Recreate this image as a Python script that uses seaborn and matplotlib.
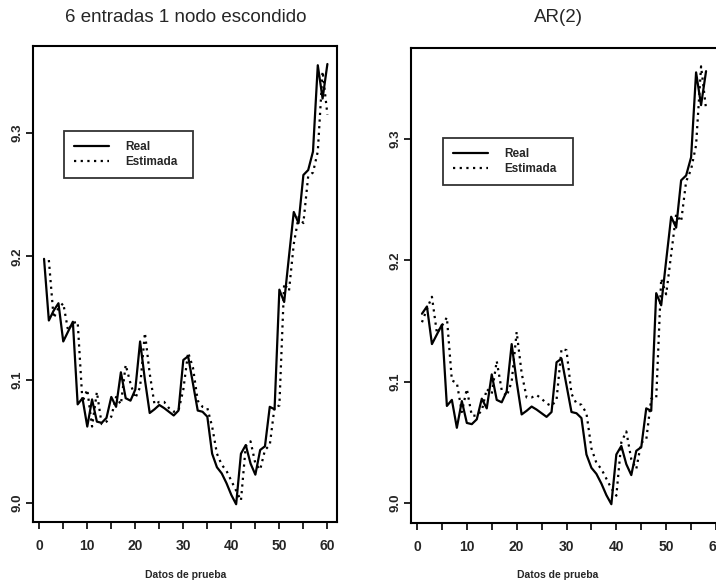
import numpy as np
import pandas as pd
import matplotlib
matplotlib.use("Agg")
import matplotlib.pyplot as plt
from matplotlib.ticker import MultipleLocator
import seaborn as sns

# ---- data ----
real_nn = [9.198, 9.148, 9.156, 9.162, 9.131, 9.139, 9.147, 9.080, 9.085, 9.062,
           9.084, 9.066, 9.065, 9.069, 9.086, 9.078, 9.106, 9.085, 9.083, 9.092,
           9.131, 9.100, 9.073, 9.076, 9.0795, 9.077, 9.074, 9.071, 9.075, 9.116,
           9.119, 9.097, 9.075, 9.074, 9.070, 9.040, 9.029, 9.024, 9.016, 9.0065,
           8.999, 9.040, 9.047, 9.032, 9.023, 9.043, 9.046, 9.078, 9.076, 9.173,
           9.163, 9.200, 9.236, 9.227, 9.266, 9.270, 9.285, 9.355, 9.328, 9.356]
x_nn = list(range(1, 61))

est_nn = [9.197, 9.150, 9.158, 9.162, 9.140, 9.146, 9.147, 9.082, 9.092,
          9.062, 9.090, 9.064, 9.066, 9.070, 9.086, 9.080, 9.112, 9.097, 9.085,
          9.094, 9.138, 9.105, 9.080, 9.082, 9.082, 9.077, 9.074, 9.075, 9.092,
          9.122, 9.110, 9.083, 9.078, 9.077, 9.062, 9.040, 9.031, 9.026, 9.018,
          9.010, 9.002, 9.046, 9.050, 9.032, 9.027, 9.043, 9.047, 9.078, 9.079,
          9.178, 9.172, 9.210, 9.232, 9.227, 9.265, 9.268, 9.285, 9.350, 9.315]
x_est_nn = list(range(2, 61))

real_ar = real_nn[2:]
x_ar = list(range(1, 59))
est_ar = [9.149, 9.160, 9.170, 9.140, 9.146, 9.153, 9.101, 9.099, 9.075, 9.094,
          9.072, 9.072, 9.076, 9.094, 9.090, 9.117, 9.093, 9.088, 9.100, 9.141,
          9.107, 9.087, 9.087, 9.089, 9.086, 9.082, 9.080, 9.085, 9.127, 9.126,
          9.090, 9.082, 9.081, 9.074, 9.045, 9.033, 9.028, 9.020, 9.012, 9.006,
          9.050, 9.059, 9.036, 9.028, 9.050, 9.052, 9.086, 9.086, 9.185, 9.172,
          9.205, 9.238, 9.232, 9.265, 9.275, 9.295, 9.360, 9.325]

titles = ["6 entradas 1 nodo escondido", "AR(2)"]
xlabel = "Datos de prueba"
yticks = [9.0, 9.1, 9.2, 9.3]
series_names = ["Real", "Estimada"]

sns.set_style("white")
plt.rcParams['font.family'] = ['Liberation Sans', 'DejaVu Sans']

fig = plt.figure(figsize=(7.16, 5.84), dpi=100)
W, H = 716, 584

def px_axes(l, r, t, b):
    return fig.add_axes([l / W, 1 - b / H, (r - l) / W, (b - t) / H])

boxes = [(33, 337, 46, 522), (411, 722, 48, 523)]
axL = px_axes(*boxes[0])
axR = px_axes(*boxes[1])

panels = [
    (axL, x_nn, real_nn, x_est_nn, est_nn, (-1.3, 62.0), (8.9846, 9.3706), 186, (64, 193, 131)),
    (axR, x_ar, real_ar, x_ar, est_ar, (-1.2, 61.2), (8.9835, 9.3751), 558, (443, 573, 138)),
]

for i, (ax, xr, yr, xe, ye, xl, yl, tx, leg) in enumerate(panels):
    df_r = pd.DataFrame({"x": xr, "y": yr})
    df_e = pd.DataFrame({"x": xe, "y": ye})
    sns.lineplot(data=df_r, x="x", y="y", ax=ax, color="black", lw=1.6,
                 label=series_names[0])
    sns.lineplot(data=df_e, x="x", y="y", ax=ax, color="black", lw=1.6,
                 linestyle=(0, (1, 2)), label=series_names[1])
    ax.set_xlim(*xl)
    ax.set_ylim(*yl)
    ax.set_xlabel("")
    ax.set_ylabel("")
    ax.xaxis.set_major_locator(MultipleLocator(10))
    ax.xaxis.set_minor_locator(MultipleLocator(5))
    ax.set_yticks(yticks)
    ax.set_yticklabels([f"{v:.1f}" for v in yticks], rotation=90, va="center",
                       fontsize=9.5, fontweight="bold")
    for lab in ax.get_xticklabels():
        lab.set_fontsize(10)
        lab.set_fontweight("bold")
    ax.tick_params(axis="both", which="both", direction="out", length=5,
                   width=1.2, color="black", bottom=True, left=True)
    ax.tick_params(axis="x", which="major", pad=7)
    ax.tick_params(axis="y", which="major", pad=1.5)
    for sp in ax.spines.values():
        sp.set_visible(True)
        sp.set_color("black")
        sp.set_linewidth(1.5)
    # legend
    l, r, t, b = boxes[i]
    lx0, lx1, lyt = leg
    bb_x = (lx0 - l) / (r - l)
    bb_w = (lx1 - lx0) / (r - l)
    bb_y = (b - lyt) / (b - t)
    lg = ax.legend(loc="upper left", bbox_to_anchor=(bb_x, bb_y, bb_w, 0.0001),
                   mode="expand", frameon=True, fancybox=False, handlelength=3.0,
                   handletextpad=1.3, borderpad=0.85, labelspacing=0.25,
                   borderaxespad=0, prop={"size": 8.5, "weight": "bold"})
    lg.get_frame().set_edgecolor("black")
    lg.get_frame().set_linewidth(1.3)
    fig.text(tx / W, 1 - 18 / H, titles[i], ha="center", va="center", fontsize=13.5)
    fig.text(tx / W, 1 - 575 / H, xlabel, ha="center", va="center", fontsize=7.5,
             fontweight="bold")

fig.savefig("out.png", dpi=100)
